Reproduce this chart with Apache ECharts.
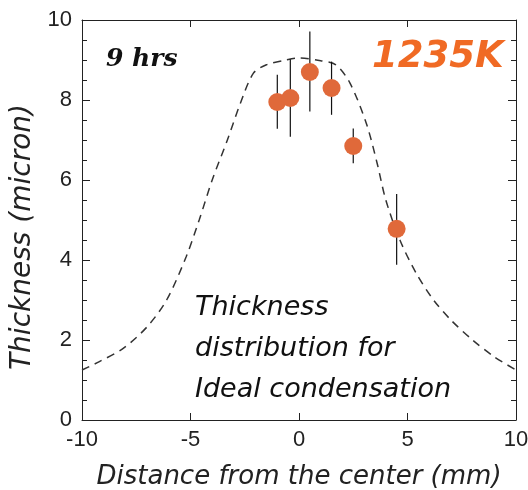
<!DOCTYPE html>
<html>
<head>
<meta charset="utf-8">
<script src="https://cdn.jsdelivr.net/npm/echarts@6/dist/echarts.min.js"></script>
<style>
  html, body { margin: 0; padding: 0; background: #fff; }
  #chart { width: 528px; height: 490px; }
</style>
</head>
<body>
<div id="chart"></div>
<script>
// measured thickness (micron) vs distance from center (mm)
const pointX = [-1.0, -0.4, 0.5, 1.5, 2.5, 4.5]
const pointY = [7.95, 8.05, 8.7, 8.3, 6.85, 4.78]
const errLow = [7.28, 7.08, 7.71, 7.63, 6.42, 3.88]
const errHigh = [8.63, 9.02, 9.71, 8.96, 7.29, 5.65]

// ideal condensation curve (dashed)
const idealX = [-10, -9.2, -8.1, -7.0, -6.1, -5.2, -4.6, -4.0, -3.3, -2.7, -2.1, -1.5, -0.6, 0.0, 1.0, 1.7, 2.35, 3.1, 3.6, 4.0, 4.65, 5.4, 6.2, 7.0, 8.0, 9.0, 10]
const idealY = [1.25, 1.46, 1.79, 2.33, 3.0, 4.08, 5.0, 6.0, 7.0, 7.92, 8.67, 8.88, 9.0, 9.05, 8.98, 8.88, 8.42, 7.42, 6.42, 5.5, 4.5, 3.67, 3.0, 2.5, 2.0, 1.58, 1.25]

const xTicks = [-10, 10, 5]   // min, max, interval
const yTicks = [0, 10, 2]

const chart = echarts.init(document.getElementById('chart'))

const tickFont = '"Liberation Sans", sans-serif'
const textFont = '"DejaVu Sans", sans-serif'

const frameAxis = {
  axisLine: { show: true, onZero: false, lineStyle: { color: '#222', width: 1 } },
  splitLine: { show: false },
}

const option = {
  animation: false,
  backgroundColor: '#fff',
  grid: { left: 82, right: 12, top: 20, bottom: 70, outerBoundsMode: 'none', containLabel: false },
  xAxis: [
    {
      ...frameAxis,
      type: 'value',
      min: xTicks[0], max: xTicks[1], interval: xTicks[2],
      axisTick: { inside: true, length: 7, lineStyle: { color: '#222' } },
      axisLabel: { color: '#222', fontSize: 22, fontFamily: tickFont, margin: 9 },
      name: 'Distance from the center (mm)',
      nameLocation: 'middle',
      nameGap: 44,
      nameTextStyle: { fontSize: 26, fontStyle: 'italic', color: '#222', fontFamily: textFont },
    },
    {
      ...frameAxis,
      type: 'value', position: 'top',
      min: xTicks[0], max: xTicks[1], interval: xTicks[2],
      axisTick: { inside: true, length: 7, lineStyle: { color: '#222' } },
      axisLabel: { show: false },
    },
  ],
  yAxis: [
    {
      ...frameAxis,
      type: 'value',
      min: yTicks[0], max: yTicks[1], interval: yTicks[2],
      axisTick: { inside: true, length: 8, lineStyle: { color: '#222' } },
      minorTick: { show: true, splitNumber: 4, length: 5, lineStyle: { color: '#222' } },
      axisLabel: { color: '#222', fontSize: 22, fontFamily: tickFont, margin: 10 },
      name: 'Thickness (micron)',
      nameLocation: 'middle',
      nameGap: 45,
      nameTextStyle: { fontSize: 28, fontStyle: 'italic', color: '#222', fontFamily: textFont, padding: [0, 34, 0, 0] },
    },
    {
      ...frameAxis,
      type: 'value', position: 'right',
      min: yTicks[0], max: yTicks[1], interval: yTicks[2],
      axisTick: { inside: true, length: 8, lineStyle: { color: '#222' } },
      minorTick: { show: true, splitNumber: 4, length: 5, lineStyle: { color: '#222' } },
      axisLabel: { show: false },
    },
  ],
  series: [
    {
      type: 'line',
      data: idealX.map((x, i) => [x, idealY[i]]),
      smooth: 0.3,
      symbol: 'none',
      lineStyle: { color: '#333', width: 1.5, type: [8, 6] },
      z: 2,
    },
    {
      type: 'custom',
      data: pointX.map((x, i) => [x, errLow[i], errHigh[i]]),
      renderItem: (params, api) => {
        const lo = api.coord([api.value(0), api.value(1)])
        const hi = api.coord([api.value(0), api.value(2)])
        return {
          type: 'line',
          shape: { x1: lo[0], y1: lo[1], x2: hi[0], y2: hi[1] },
          style: { stroke: '#111', lineWidth: 1.2 },
        }
      },
      z: 3,
    },
    {
      type: 'scatter',
      data: pointX.map((x, i) => [x, pointY[i]]),
      symbol: 'circle',
      symbolSize: 18,
      itemStyle: { color: '#e0693a', opacity: 1 },
      z: 4,
    },
  ],
  graphic: [
    {
      type: 'text', left: 106, top: 47,
      style: { text: '9 hrs', fontSize: 25, fontWeight: 'bold', fontStyle: 'italic', fill: '#111', fontFamily: '"DejaVu Serif", serif' },
    },
    {
      type: 'text', left: 372, top: 39,
      style: { text: '1235K', fontSize: 37, fontWeight: 'bold', fontStyle: 'italic', fill: '#f06a24', fontFamily: textFont },
    },
    {
      type: 'text', left: 195, top: 287,
      style: {
        text: 'Thickness\ndistribution for\nIdeal condensation',
        fontSize: 27, fontStyle: 'italic', fill: '#111', lineHeight: 41, fontFamily: textFont,
      },
    },
  ],
}

chart.setOption(option)
</script>
</body>
</html>
